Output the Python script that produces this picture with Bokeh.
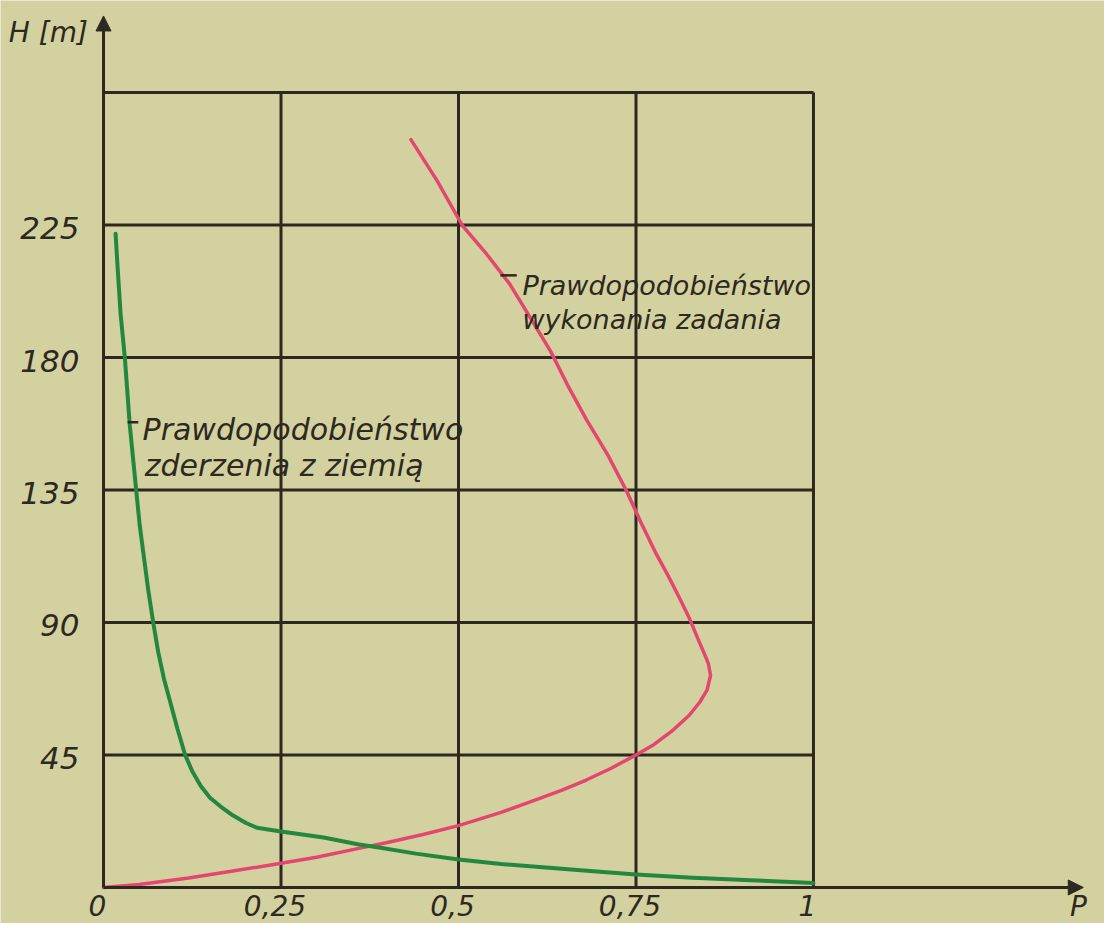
from bokeh.plotting import figure
from bokeh.models import Range1d, Arrow, NormalHead
from bokeh.core.properties import value
from bokeh.embed import file_html
from bokeh.resources import INLINE

# ---- data ----
x_ticks = [0, 0.25, 0.5, 0.75, 1]
x_tick_labels = ["0", "0,25", "0,5", "0,75", "1"]
h_ticks = [45, 90, 135, 180, 225]
h_tick_labels = ["45", "90", "135", "180", "225"]
h_top = 270
p_axis_end = 1.38
h_axis_end = 296

# Prawdopodobieństwo wykonania zadania (red)
red_p = [0.0, 0.05, 0.12, 0.18, 0.25, 0.30, 0.358, 0.40, 0.45, 0.50, 0.56,
         0.60, 0.645, 0.68, 0.715, 0.75, 0.775, 0.80, 0.825, 0.84, 0.85,
         0.855, 0.852, 0.847, 0.838, 0.826, 0.812, 0.795, 0.777, 0.757, 0.736,
         0.71, 0.68, 0.655, 0.63, 0.60, 0.572, 0.54, 0.505, 0.47, 0.433]
red_h = [0.0, 1.0, 3.2, 5.5, 8.2, 10.3, 13.2, 15.3, 18.0, 21.0, 25.5,
         29.0, 33.0, 36.5, 40.5, 45.0, 48.5, 53.0, 58.5, 63.0, 67.0,
         72.0, 76.0, 79.0, 84.0, 91.0, 98.0, 106.0, 114.0, 124.0, 135.0,
         147.0, 159.0, 170.0, 182.0, 194.0, 205.0, 215.0, 225.0, 240.0, 254.0]

# Prawdopodobieństwo zderzenia z ziemią (green)
green_p = [0.017, 0.020, 0.024, 0.030, 0.037, 0.046, 0.051, 0.057, 0.063, 0.070,
           0.077, 0.085, 0.094, 0.104, 0.115, 0.125, 0.137, 0.150, 0.165, 0.182,
           0.200, 0.216, 0.25, 0.28, 0.31, 0.335, 0.36, 0.39, 0.44, 0.50,
           0.56, 0.623, 0.69, 0.75, 0.83, 0.92, 1.0]
green_h = [222.0, 210.0, 195.0, 180.0, 157.0, 135.0, 123.0, 112.0, 101.0, 90.0,
           80.0, 71.0, 63.0, 54.0, 45.0, 39.5, 34.5, 30.5, 27.5, 24.5,
           22.0, 20.3, 19.0, 18.0, 17.0, 15.8, 14.6, 13.5, 11.5, 9.5,
           8.0, 6.8, 5.5, 4.4, 3.3, 2.4, 1.5]

label_red = ["Prawdopodobieństwo", "wykonania zadania"]
label_green = ["Prawdopodobieństwo", "zderzenia z ziemią"]

BG = "#d3d19f"
INK = "#2d2820"
RED = "#e4466f"
GREEN = "#23883c"
FONT = value("DejaVu Sans")

p = figure(width=1104, height=923,
           x_range=Range1d(-0.1451, 1.4099), y_range=Range1d(-12.23, 301.25),
           output_backend="svg", toolbar_location=None, min_border=0,
           x_axis_type=None, y_axis_type=None)
p.grid.visible = False
p.background_fill_color = BG
p.border_fill_color = BG
p.outline_line_color = None

# grid lines
vx = x_ticks[1:]
p.segment(x0=vx, y0=[0] * len(vx), x1=vx, y1=[h_top] * len(vx),
          line_color=INK, line_width=3)
hh = h_ticks + [h_top]
p.segment(x0=[0] * len(hh), y0=hh, x1=[1] * len(hh), y1=hh,
          line_color=INK, line_width=3)

# axes with arrows
p.add_layout(Arrow(end=NormalHead(size=15, fill_color=INK, line_color=INK),
                   x_start=0, y_start=0, x_end=0, y_end=h_axis_end,
                   line_color=INK, line_width=3))
p.add_layout(Arrow(end=NormalHead(size=15, fill_color=INK, line_color=INK),
                   x_start=0, y_start=0, x_end=p_axis_end, y_end=0,
                   line_color=INK, line_width=3))

# curves
p.line(red_p, red_h, line_color=RED, line_width=3.5, line_join="round", line_cap="round")
p.line(green_p, green_h, line_color=GREEN, line_width=4, line_join="round", line_cap="round")

# tick labels
p.text(x=x_ticks, y=[0] * len(x_ticks), text=x_tick_labels,
       text_font=FONT, text_font_style="italic", text_font_size="28px",
       text_color=INK, text_align="center", text_baseline="top",
       x_offset=-6, y_offset=8)
p.text(x=[-0.034] * len(h_ticks), y=h_ticks, text=h_tick_labels,
       text_font=FONT, text_font_style="italic", text_font_size="31px",
       text_color=INK, text_align="right", text_baseline="middle", y_offset=3)

# axis titles
p.text(x=[-0.022], y=[290.4], text=["H [m]"], text_font=FONT,
       text_font_style="italic", text_font_size="28px", text_color=INK,
       text_align="right", text_baseline="middle")
p.text(x=[1.385], y=[0], text=["P"], text_font=FONT,
       text_font_style="italic", text_font_size="28px", text_color=INK,
       text_align="right", text_baseline="top", y_offset=3)

# curve annotations with leader ticks
p.segment(x0=[0.559, 0.034], y0=[207.9, 158.0], x1=[0.582, 0.049], y1=[207.9, 158.0],
          line_color=INK, line_width=2.5)
p.text(x=[0.59, 0.59], y=[204.5, 192.9], text=label_red, text_font=FONT,
       text_font_style="italic", text_font_size="27px", text_color=INK,
       text_align="left", text_baseline="alphabetic")
p.text(x=[0.055, 0.058], y=[155.6, 143.3], text=label_green, text_font=FONT,
       text_font_style="italic", text_font_size="30px", text_color=INK,
       text_align="left", text_baseline="alphabetic")

open("out.html", "w").write(file_html(p, INLINE))
